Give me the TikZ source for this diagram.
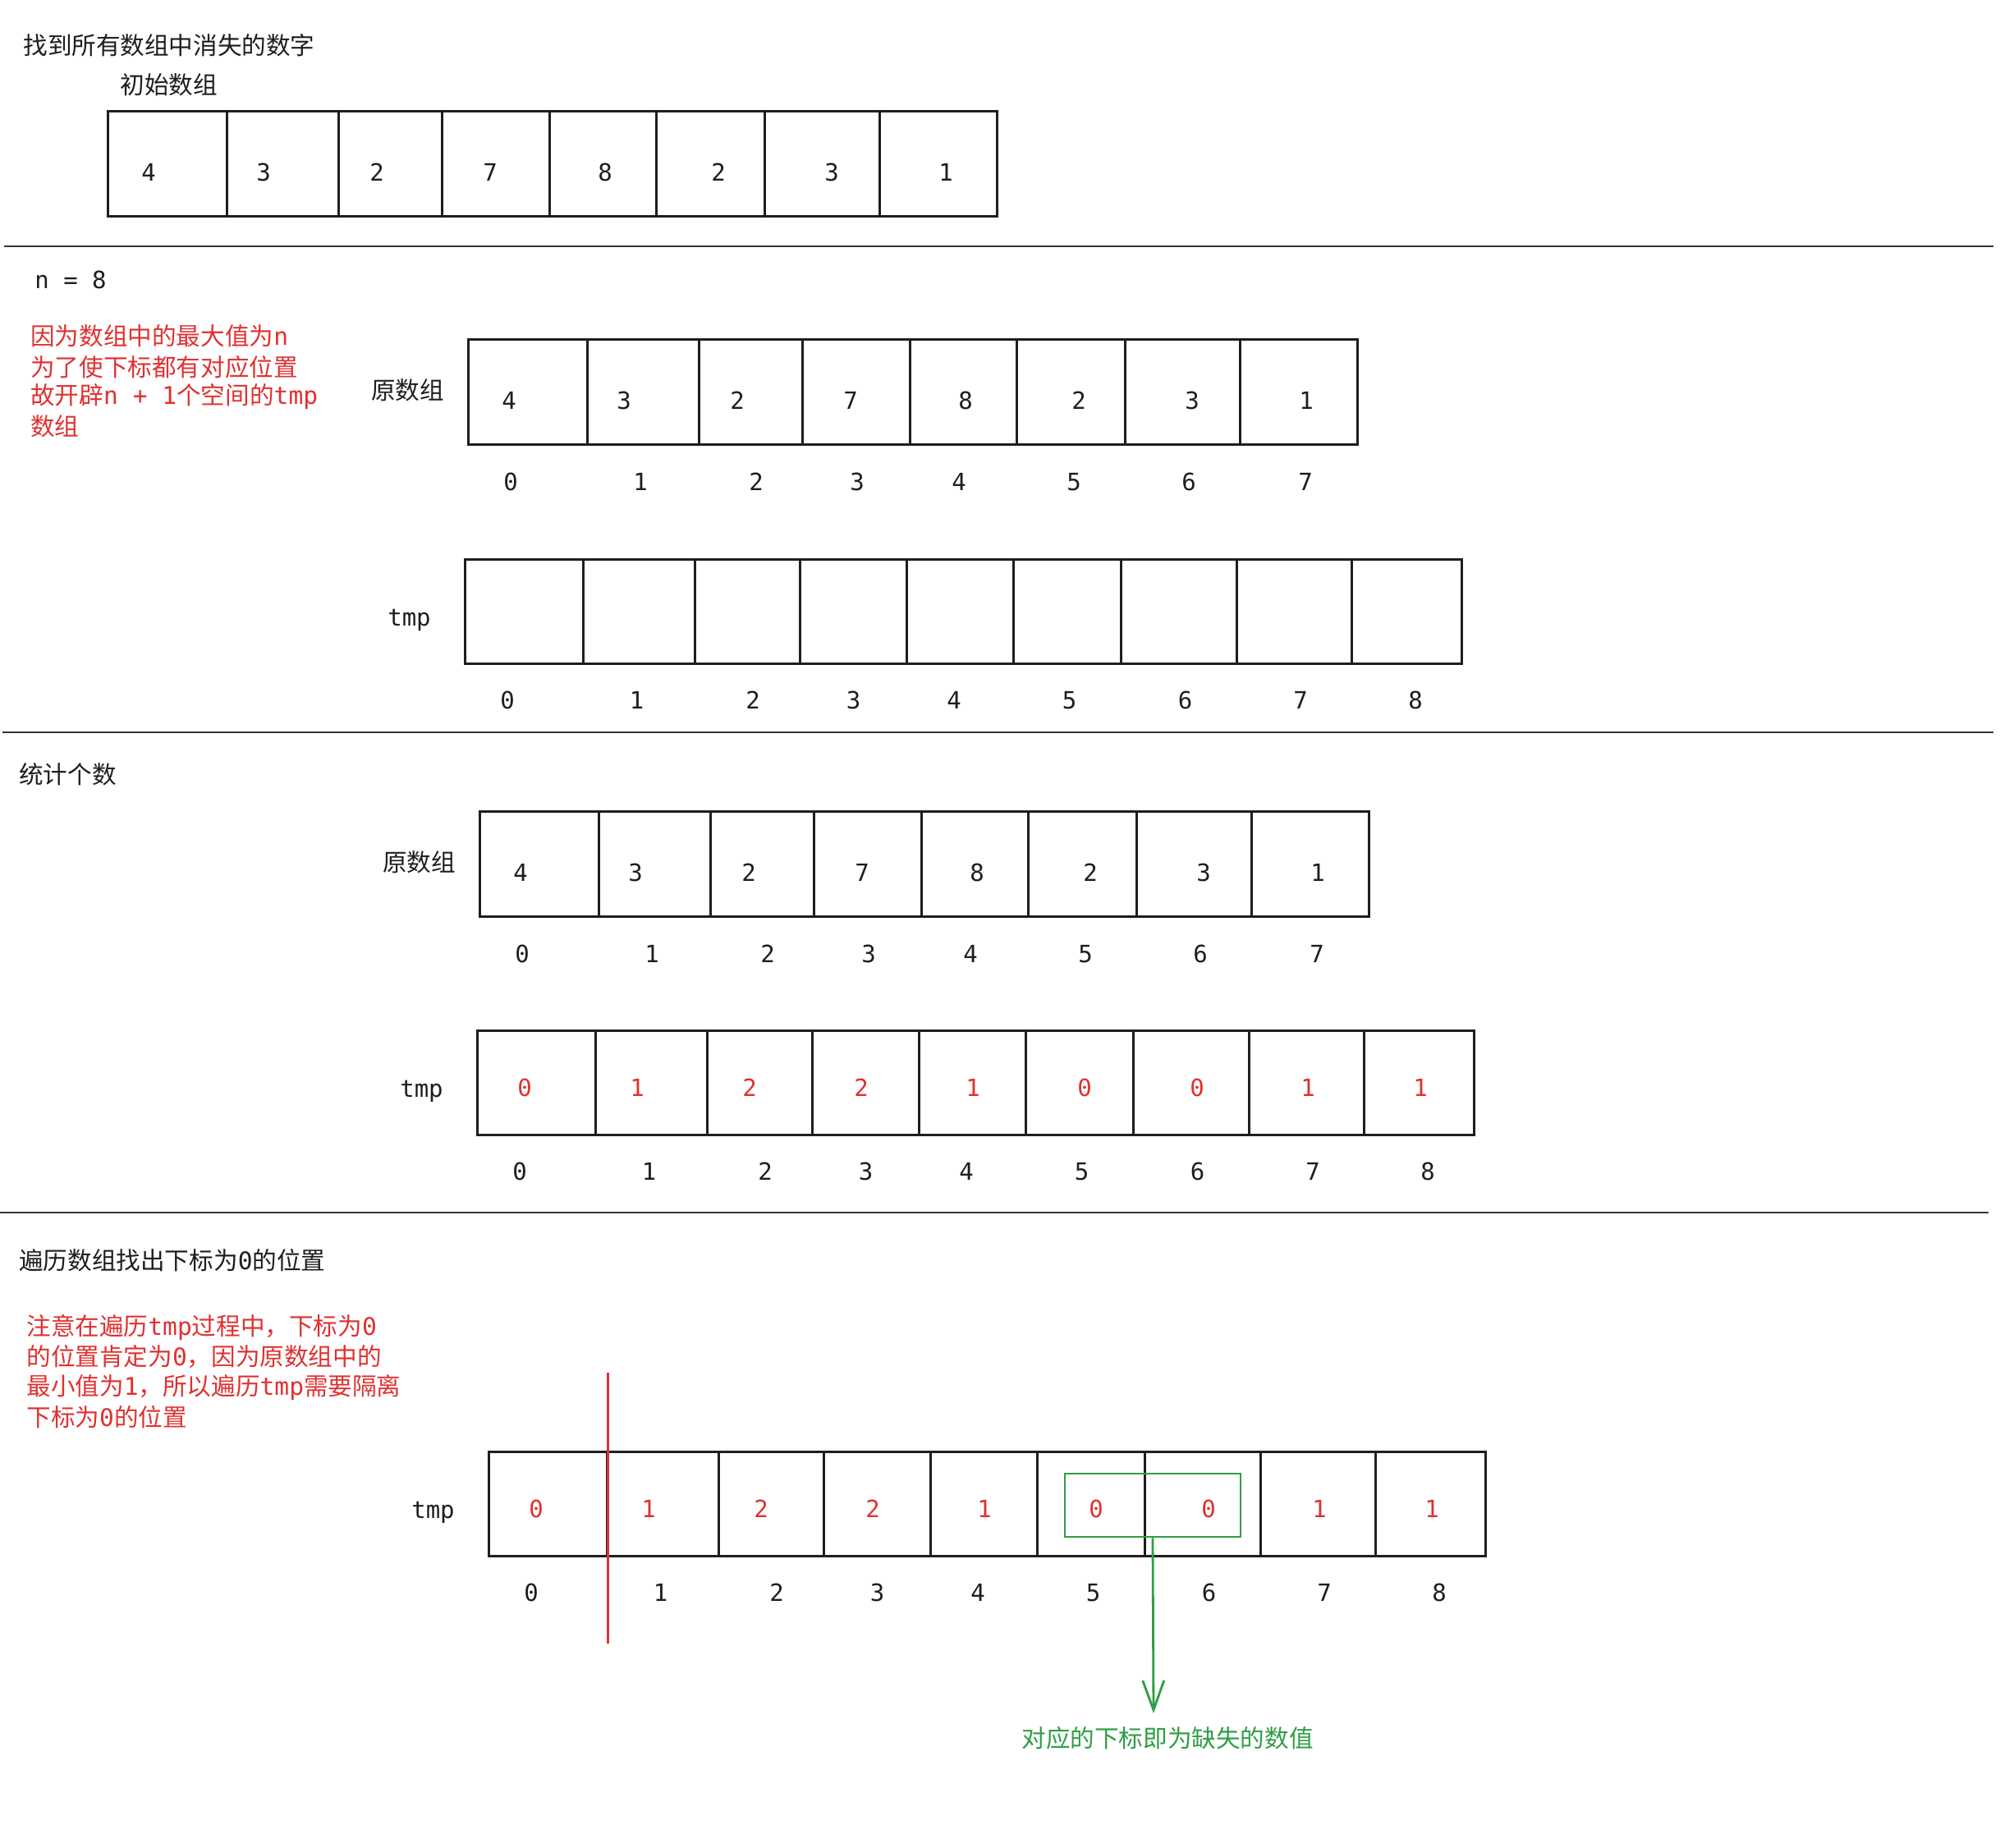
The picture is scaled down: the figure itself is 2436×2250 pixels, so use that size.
\documentclass[tikz,border=0pt]{standalone}
\usepackage{fontspec}
\newfontfamily\cjk{Noto Sans CJK SC}
\newfontfamily\mono{DejaVu Sans Mono}
\usetikzlibrary{arrows.meta}
\definecolor{ink}{HTML}{1E1E1E}
\definecolor{redt}{HTML}{E03131}
\definecolor{greent}{HTML}{2F9E44}
\newcommand\mm[1]{{\mono #1}}
% 8-cell original array (frame of the second array)
\newcommand\origcells[1]{%
  \foreach \l/\r [count=\i from 0] in {570/715,715/851,851/977,977/1108,1108/1238,1238/1370,1370/1510,1510/1653}
    {\node[cellbox, minimum width={(\r-\l)*0.5}, minimum height=64pt] (#1c\i) at ({(\l+\r)/2},477) {};}
  \foreach \v/\x [count=\i from 0] in {4/620,3/760,2/898,7/1036,8/1176,2/1314,3/1452,1/1591}
    {\node[numtext] (#1v\i) at (\x,488) {\v};}
}
\newcommand\origidx[1]{%
  \foreach \x [count=\i from 0] in {622,780,921,1044,1168,1308,1448,1590}
    {\node[numtext] (#1i\i) at (\x,587) {\i};}
}
% 9-cell tmp array (frame of the first tmp array)
\newcommand\tmpcells[1]{%
  \foreach \l/\r [count=\i from 0] in {566/710,710/846.6,846.6/974,974/1104,1104/1234,1234/1365.5,1365.5/1506,1506/1646,1646/1780}
    {\node[cellbox, minimum width={(\r-\l)*0.5}, minimum height=63.5pt] (#1c\i) at ({(\l+\r)/2},744.5) {};}
  \foreach \x [count=\i from 0] in {618,775.6,917,1039.5,1162,1302.5,1443.6,1584,1724}
    {\node[numtext] (#1i\i) at (\x,853) {\i};}
  \node[numtext] (#1lab) at (498.5,755) {tmp};
}
\newcommand\tmpvals[1]{%
  \foreach \v/\x [count=\i from 0] in {0/624,1/761,2/898,2/1034,1/1170,0/1306,0/1443,1/1578,1/1715}
    {\node[rednum] (#1v\i) at (\x,751) {\v};}
}
\begin{document}
\begin{tikzpicture}[x=0.5pt,y=-0.5pt,
  cjktext/.style={font=\fontsize{14.8pt}{18pt}\cjk, text=ink, inner sep=0pt, anchor=west},
  redtext/.style={cjktext, text=redt},
  numtext/.style={font=\fontsize{14.5pt}{18pt}\mono, text=ink, inner sep=0pt},
  rednum/.style={numtext, text=redt},
  cellbox/.style={draw=ink, line width=1.5pt, inner sep=0pt},
  sepline/.style={draw=ink!90, line width=1.1pt}]
\useasboundingbox[fill=white] (0,0) rectangle (2436,2250);

% separators
\coordinate (s1a) at (5,300);  \coordinate (s1b) at (2428,300);
\coordinate (s2a) at (3,892);  \coordinate (s2b) at (2428,892);
\coordinate (s3a) at (0,1477); \coordinate (s3b) at (2422,1477);
\draw[sepline] (s1a) -- (s1b);
\draw[sepline] (s2a) -- (s2b);
\draw[sepline] (s3a) -- (s3b);

% section 1
\node[cjktext] (title) at (28,55) {找到所有数组中消失的数字};
\node[cjktext] (init) at (146,103) {初始数组};
\begin{scope}[shift={(-439,-278)}]
  \origcells{a1}
\end{scope}

% section 2
\node[numtext, anchor=west] (n8) at (42,341) {n = 8};
\node[redtext] (r2a) at (37,409) {因为数组中的最大值为\mm{n}};
\node[redtext] (r2b) at (37,447) {为了使下标都有对应位置};
\node[redtext] (r2c) at (37,483) {故开辟\mm{n + 1}个空间的\mm{tmp}};
\node[redtext] (r2d) at (37,519) {数组};
\node[cjktext, anchor=center] (a2lab) at (496.5,475) {原数组};
\origcells{a2}
\origidx{a2}
\tmpcells{t2}

% section 3
\node[cjktext] (stat) at (23,943) {统计个数};
\begin{scope}[shift={(14,575)}]
  \node[cjktext, anchor=center] (a3lab) at (496.5,475) {原数组};
  \origcells{a3}
  \origidx{a3}
\end{scope}
\begin{scope}[shift={(15,574)}]
  \tmpcells{t3}
  \tmpvals{t3}
\end{scope}

% section 4
\node[cjktext] (trav) at (23,1535) {遍历数组找出下标为\mm{0}的位置};
\node[redtext] (r4a) at (32,1617) {注意在遍历\mm{tmp}过程中，下标为\mm{0}};
\node[redtext] (r4b) at (32,1653) {的位置肯定为\mm{0}，因为原数组中的};
\node[redtext] (r4c) at (32,1690) {最小值为\mm{1}，所以遍历\mm{tmp}需要隔离};
\node[redtext] (r4d) at (32,1726) {下标为\mm{0}的位置};
\begin{scope}[shift={(29,1087)}]
  \tmpcells{t4}
  \tmpvals{t4}
\end{scope}

% red separator line
\coordinate (rtop) at (740.5,1672);
\coordinate (rbot) at (740.5,2002);
\draw[redt, line width=1.25pt] (rtop) -- (rbot);

% green selection and arrow
\node[draw=greent, line width=1.4pt, inner sep=0pt, minimum width=107pt, minimum height=38.5pt] (sel) at (1404,1833.5) {};
\node[cjktext, anchor=center, text=greent] (note) at (1422,2117) {对应的下标即为缺失的数值};
\coordinate (tip) at (1405,2087);
\draw[greent, line width=1.4pt, -{Straight Barb[length=18pt, width=13pt]}] (sel.south) -- (tip);
\end{tikzpicture}
\end{document}
